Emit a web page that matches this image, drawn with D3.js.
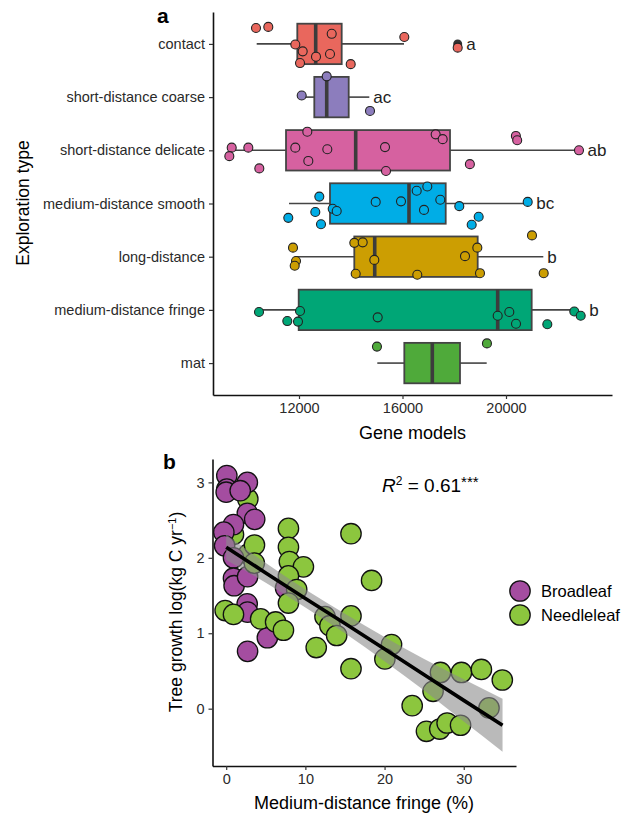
<!DOCTYPE html>
<html>
<head>
<meta charset="utf-8">
<script src="https://cdn.jsdelivr.net/npm/d3@7"></script>
<style>
  body { margin: 0; background: #fff; }
  svg { display: block; font-family: "Liberation Sans", Arial, Helvetica, sans-serif; }
</style>
</head>
<body>
<div id="chart"></div>
<script>
// panel a: exploration types, box stats
var categories = ["contact", "short-distance coarse", "short-distance delicate",
  "medium-distance smooth", "long-distance", "medium-distance fringe", "mat"];
var whiskerLo = [10365, 11961, 9399, 11614, 11845, 10466, 15026];
var quart1    = [11934, 12591, 11498, 13198, 14137, 11988, 16070];
var medians   = [12645, 13071, 14191, 16251, 14926, 19679, 17152];
var quart3    = [13650, 13921, 17836, 17670, 18906, 20993, 18222];
var whiskerHi = [16058, 14717, 22821, 20839, 21442, 22667, 19254];
var sigLetters = ["a", "ac", "ab", "bc", "b", "b", ""];
var outliers = [[0, 18133]];
var geneTicks = [12000, 16000, 20000];

// jittered points: [category index, gene models, vertical jitter (fraction of row)]
var genePoints = [
  [0,10338,-0.30],[0,10813,-0.32],[0,13264,-0.19],[0,16070,-0.13],[0,11857,0.01],[0,12143,0.14],
  [0,12657,0.24],[0,13198,0.19],[0,12039,0.36],[0,13998,0.38],[0,18133,0.07],
  [1,12104,-0.03],[1,13071,-0.39],[1,14744,0.26],
  [2,9399,-0.05],[2,9307,0.11],[2,10041,-0.05],[2,10466,0.34],[2,12321,-0.35],[2,11857,-0.05],
  [2,12360,0.20],[2,13094,-0.02],[2,15324,-0.06],[2,15362,0.39],[2,17282,-0.30],[2,17553,-0.21],
  [2,18604,0.26],[2,20382,-0.27],[2,20433,-0.19],[2,22821,0.00],
  [3,12785,-0.13],[3,11586,0.27],[3,12630,0.16],[3,12850,0.39],[3,13302,0.10],[3,13457,0.14],
  [3,14964,-0.03],[3,15942,-0.04],[3,16549,-0.24],[3,16959,-0.32],[3,16831,0.12],[3,17461,-0.07],
  [3,18195,0.05],[3,18944,0.25],[3,18674,0.40],[3,20839,-0.03],
  [4,11768,-0.17],[4,11884,0.08],[4,11834,0.17],[4,14137,-0.26],[4,14462,-0.27],[4,14911,0.06],
  [4,14191,0.32],[4,16572,0.34],[4,18416,-0.01],[4,18892,-0.17],[4,18995,0.31],[4,21005,-0.40],
  [4,21457,0.31],
  [5,10454,0.04],[5,11548,0.21],[5,11961,0.22],[5,12039,0.02],[5,15042,0.14],[5,19679,0.11],
  [5,20128,0.04],[5,20387,0.26],[5,21597,0.27],[5,22640,0.03],[5,22887,0.11],
  [6,15013,-0.31],[6,19264,-0.37]
];

// panel b: tree growth vs medium-distance fringe; [fringe %, growth, type]
var treeGroups = ["Broadleaf", "Needleleaf"];
var treePoints = [
  [2.73,2.78,"N"],[0.92,2.31,"N"],[2.81,2.05,"N"],
  [0.08,3.09,"B"],[0.08,2.91,"B"],[0.0,2.87,"B"],[2.67,3.0,"B"],[1.77,2.89,"B"],[2.67,2.59,"B"],
  [3.6,2.51,"B"],[0.92,2.44,"B"],[-0.3,2.34,"B"],[-0.2,2.16,"B"],[0.92,2.0,"B"],[0.92,1.73,"B"],
  [1.0,1.63,"B"],[2.7,1.75,"B"],[7.5,1.6,"B"],[2.65,1.39,"B"],[2.7,1.28,"B"],[5.2,0.94,"B"],[2.7,0.76,"B"],
  [3.57,2.17,"N"],[3.55,1.93,"N"],
  [15.76,2.32,"N"],[7.86,2.39,"N"],[7.86,2.14,"N"],[7.98,1.95,"N"],[9.75,1.88,"N"],[7.86,1.76,"N"],
  [8.9,1.58,"N"],[7.86,1.40,"N"],[18.36,1.70,"N"],[-0.13,1.30,"N"],[0.92,1.25,"N"],[4.35,1.19,"N"],
  [6.24,1.15,"N"],[7.23,1.04,"N"],[12.48,1.22,"N"],[13.1,1.10,"N"],[13.95,0.97,"N"],[15.76,1.23,"N"],
  [11.37,0.81,"N"],[15.76,0.53,"N"],[20.88,0.85,"N"],[20.04,0.66,"N"],[23.49,0.04,"N"],[25.29,-0.30,"N"],
  [26.97,-0.27,"N"],[27.9,-0.19,"N"],[29.6,-0.22,"N"],[26.13,0.23,"N"],[27.06,0.48,"N"],[29.71,0.48,"N"],
  [32.23,0.52,"N"],[34.87,0.38,"N"],[33.19,0.01,"N"]
];
// fitted line and its confidence band
var fitX  = [0, 5, 10, 15, 20, 25, 30, 34.9];
var fitY  = [2.14, 1.80, 1.46, 1.13, 0.79, 0.45, 0.11, -0.22];
var fitLo = [1.97, 1.67, 1.34, 1.00, 0.63, 0.24, -0.17, -0.57];
var fitHi = [2.31, 1.93, 1.58, 1.26, 0.95, 0.66, 0.39, 0.13];
var fringeTicks = [0, 10, 20, 30];
var growthTicks = [0, 1, 2, 3];

// colours
var boxColours = ["#E9675D", "#8C7DBD", "#D661A0", "#00ADE6", "#CC9E02", "#00A676", "#4FAA3A"];
var treeColours = {B: "#A44DA0", N: "#8CC63E"};

var width = 630, height = 813;

var svg = d3.select("#chart").append("svg")
  .attr("width", width)
  .attr("height", height);

// ---------- panel a ----------
var xA = d3.scaleLinear().domain([8676, 24097]).range([213, 612]);
var yA = d3.scalePoint().domain(categories).range([12, 395]).padding(0.6);
var step = yA.step();
var boxH = step * 0.76;

function styleAxis(g) {
  g.select(".domain").attr("stroke", "#111").attr("stroke-width", 1.6);
  g.selectAll(".tick line").attr("stroke", "#333").attr("stroke-width", 1.2);
  g.selectAll(".tick text").attr("fill", "#2a2a2a").style("font-size", "14.5px")
    .style("font-family", "'Liberation Sans', Arial, sans-serif");
}

svg.append("g")
  .attr("transform", "translate(213,0)")
  .call(d3.axisLeft(yA).tickSize(4).tickSizeOuter(0).tickPadding(4))
  .call(styleAxis);

svg.append("g")
  .attr("transform", "translate(0,395)")
  .call(d3.axisBottom(xA).tickValues(geneTicks).tickFormat(d3.format("d")).tickSize(4).tickSizeOuter(0).tickPadding(4))
  .call(styleAxis);

var boxes = svg.append("g");
categories.forEach(function(c, i) {
  var cy = yA(c);
  var g = boxes.append("g");
  g.append("line")
    .attr("x1", xA(whiskerLo[i])).attr("x2", xA(quart1[i]))
    .attr("y1", cy).attr("y2", cy)
    .attr("stroke", "#444").attr("stroke-width", 1.6);
  g.append("line")
    .attr("x1", xA(quart3[i])).attr("x2", xA(whiskerHi[i]))
    .attr("y1", cy).attr("y2", cy)
    .attr("stroke", "#444").attr("stroke-width", 1.6);
  g.append("rect")
    .attr("x", xA(quart1[i])).attr("width", xA(quart3[i]) - xA(quart1[i]))
    .attr("y", cy - boxH / 2).attr("height", boxH)
    .attr("fill", boxColours[i]).attr("stroke", "#444").attr("stroke-width", 1.8);
  g.append("line")
    .attr("x1", xA(medians[i])).attr("x2", xA(medians[i]))
    .attr("y1", cy - boxH / 2).attr("y2", cy + boxH / 2)
    .attr("stroke", "#3c3c3c").attr("stroke-width", 3.6);
});

svg.append("g").selectAll("circle")
  .data(outliers)
  .join("circle")
    .attr("cx", function(d) { return xA(d[1]); })
    .attr("cy", function(d) { return yA(categories[d[0]]); })
    .attr("r", 4.5)
    .attr("fill", "#333");

svg.append("g").selectAll("circle")
  .data(genePoints)
  .join("circle")
    .attr("cx", function(d) { return xA(d[1]); })
    .attr("cy", function(d) { return yA(categories[d[0]]) + d[2] * step; })
    .attr("r", 4.5)
    .attr("fill", function(d) { return boxColours[d[0]]; })
    .attr("stroke", "#222")
    .attr("stroke-width", 1.1);

// significance letters right of whisker / last central point
categories.forEach(function(c, i) {
  if (!sigLetters[i]) return;
  var xr = xA(whiskerHi[i]);
  genePoints.forEach(function(p) {
    if (p[0] === i && Math.abs(p[2]) < 0.2) xr = Math.max(xr, xA(p[1]) + 4.5);
  });
  svg.append("text")
    .attr("x", xr + 4)
    .attr("y", yA(c))
    .attr("dy", "0.35em")
    .style("font-size", "17px")
    .attr("fill", "#222")
    .text(sigLetters[i]);
});

svg.append("text")
  .attr("x", 412.5).attr("y", 439)
  .attr("text-anchor", "middle")
  .style("font-size", "18px")
  .text("Gene models");

svg.append("text")
  .attr("transform", "translate(23,203) rotate(-90)")
  .attr("text-anchor", "middle")
  .attr("dy", "0.35em")
  .style("font-size", "17.5px")
  .text("Exploration type");

svg.append("text")
  .attr("x", 157).attr("y", 23)
  .style("font-size", "21px").style("font-weight", "bold")
  .text("a");

// ---------- panel b ----------
var xB = d3.scaleLinear().domain([-1.73, 36.6]).range([212.5, 516]);
var yB = d3.scaleLinear().domain([-0.76, 3.31]).range([766, 459]);

svg.append("g")
  .attr("transform", "translate(212.5,0)")
  .call(d3.axisLeft(yB).tickValues(growthTicks).tickFormat(d3.format("d")).tickSize(4).tickSizeOuter(0).tickPadding(4))
  .call(styleAxis);

svg.append("g")
  .attr("transform", "translate(0,766)")
  .call(d3.axisBottom(xB).tickValues(fringeTicks).tickFormat(d3.format("d")).tickSize(4).tickSizeOuter(0).tickPadding(4))
  .call(styleAxis);

svg.append("g").selectAll("circle")
  .data(treePoints)
  .join("circle")
    .attr("cx", function(d) { return xB(d[0]); })
    .attr("cy", function(d) { return yB(d[1]); })
    .attr("r", 10.2)
    .attr("fill", function(d) { return treeColours[d[2]]; })
    .attr("stroke", "#111")
    .attr("stroke-width", 1.3);

var fitData = fitX.map(function(x, i) { return {x: x, y: fitY[i], lo: fitLo[i], hi: fitHi[i]}; });

svg.append("path")
  .datum(fitData)
  .attr("d", d3.area()
    .x(function(d) { return xB(d.x); })
    .y0(function(d) { return yB(d.lo); })
    .y1(function(d) { return yB(d.hi); })
    .curve(d3.curveMonotoneX))
  .attr("fill", "#8c8c8c")
  .attr("fill-opacity", 0.6);

svg.append("path")
  .datum(fitData)
  .attr("d", d3.line()
    .x(function(d) { return xB(d.x); })
    .y(function(d) { return yB(d.y); }))
  .attr("fill", "none")
  .attr("stroke", "#000")
  .attr("stroke-width", 3.6);

var r2 = svg.append("text")
  .attr("x", 382).attr("y", 492)
  .style("font-size", "19px");
r2.append("tspan").style("font-style", "italic").text("R");
r2.append("tspan").attr("dy", -7).style("font-size", "12px").text("2");
r2.append("tspan").attr("dy", 7).text(" = 0.61");
r2.append("tspan").attr("dy", -5).style("font-size", "15px").text("***");

var yt = svg.append("text")
  .attr("transform", "translate(176,612) rotate(-90)")
  .attr("text-anchor", "middle")
  .attr("dy", "0.35em")
  .style("font-size", "17.5px");
yt.append("tspan").text("Tree growth log(kg C yr");
yt.append("tspan").attr("dy", -6).style("font-size", "11px").text("\u22121");
yt.append("tspan").attr("dy", 6).text(")");

svg.append("text")
  .attr("x", 364).attr("y", 809)
  .attr("text-anchor", "middle")
  .style("font-size", "18px")
  .text("Medium-distance fringe (%)");

svg.append("text")
  .attr("x", 163).attr("y", 469)
  .style("font-size", "21px").style("font-weight", "bold")
  .text("b");

// legend
var legend = svg.append("g");
treeGroups.forEach(function(name, i) {
  var key = name.charAt(0);
  var ly = 591 + i * 24;
  legend.append("circle")
    .attr("cx", 520).attr("cy", ly).attr("r", 10.2)
    .attr("fill", treeColours[key]).attr("stroke", "#111").attr("stroke-width", 1.3);
  legend.append("text")
    .attr("x", 541).attr("y", ly).attr("dy", "0.35em")
    .style("font-size", "16.5px")
    .text(name);
});
</script>
</body>
</html>
